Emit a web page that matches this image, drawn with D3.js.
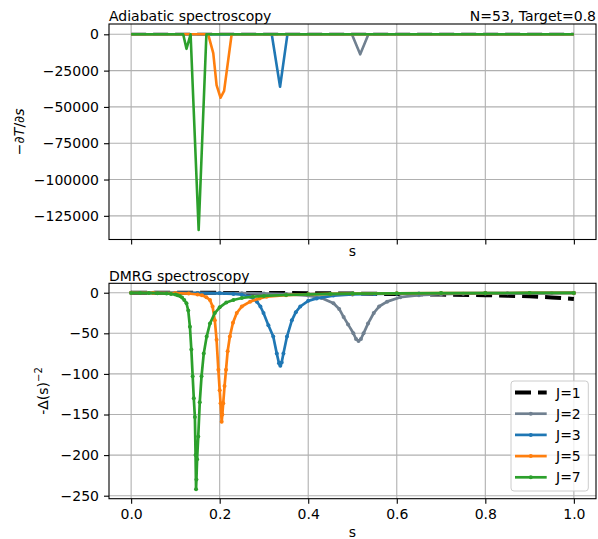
<!DOCTYPE html>
<html>
<head>
<meta charset="utf-8">
<script src="https://cdn.jsdelivr.net/npm/d3@7"></script>
<style>
  html, body { margin: 0; padding: 0; background: #fff; }
  svg { display: block; font-family: "DejaVu Sans", sans-serif; }
</style>
</head>
<body>
<svg id="chart" width="598" height="539"></svg>
<script>
// ---------- DATA ----------
const seriesLabels = ["J=1", "J=2", "J=3", "J=5", "J=7"];
const xTicks = [0.0, 0.2, 0.4, 0.6, 0.8, 1.0];
const topYTicks = [0, -25000, -50000, -75000, -100000, -125000];
const bottomYTicks = [0, -50, -100, -150, -200, -250];

// Top panel: -dT/ds (adiabatic spectroscopy)
const topJ1S = [0.0, 1.0];
const topJ1V = [300, 300];
const topJ2S = [0.0, 0.4986, 0.5174, 0.536, 1.0];
const topJ2V = [0, 0, -13800, 0, 0];
const topJ3S = [0.0, 0.3176, 0.3364, 0.353, 1.0];
const topJ3V = [0, 0, -36100, 0, 0];
const topJ5S = [0.0, 0.174, 0.1855, 0.193, 0.202, 0.21, 0.227, 1.0];
const topJ5V = [0, 0, -13000, -35000, -43700, -39000, 0, 0];
const topJ7S = [0.0, 0.1176, 0.125, 0.1343, 0.1525, 0.170, 1.0];
const topJ7V = [0, 0, -10000, 0, -134800, 0, 0];

// Bottom panel: -Delta(s)^-2 (DMRG spectroscopy)
const botJ1S = [0.0, 0.1, 0.2, 0.3, 0.4, 0.5, 0.6, 0.7, 0.8, 0.85, 0.9, 0.95, 0.98, 1.0];
const botJ1V = [0, -0.1, -0.2, -0.3, -0.6, -1.0, -1.6, -2.3, -3.0, -3.6, -4.5, -5.8, -6.9, -7.7];

const botJ2S = [0.0, 0.05, 0.1, 0.15, 0.2, 0.25, 0.3, 0.35, 0.4, 0.43, 0.457, 0.47, 0.48, 0.49, 0.502, 0.508, 0.5136, 0.519, 0.525, 0.535, 0.548, 0.56, 0.578, 0.608, 0.65, 0.7, 0.75, 0.8, 0.85, 0.9, 0.95, 1.0];
const botJ2V = [-0.1, -0.15, -0.2, -0.3, -0.4, -0.6, -1.0, -1.7, -3.5, -6.5, -13, -20, -30, -39, -50, -57, -59.5, -57, -50, -38, -25, -17, -11, -5.5, -3, -1.8, -1.2, -0.9, -0.7, -0.5, -0.4, -0.3];

const botJ3S = [0.0, 0.05, 0.1, 0.15, 0.2, 0.231, 0.25, 0.269, 0.284, 0.292, 0.299, 0.31, 0.321, 0.329, 0.334, 0.337, 0.34, 0.344, 0.352, 0.363, 0.372, 0.382, 0.4, 0.419, 0.457, 0.5, 0.55, 0.6, 0.65, 0.7, 0.8, 0.9, 1.0];
const botJ3V = [-0.1, -0.2, -0.3, -0.5, -0.8, -1.5, -2.5, -5, -11, -17, -25, -40, -54, -75, -87, -90, -86, -75, -54, -34, -24, -17, -10, -7, -3.5, -2.2, -1.6, -1.2, -1.0, -0.8, -0.5, -0.4, -0.3];

const botJ5S = [0.0, 0.05, 0.1, 0.13, 0.15, 0.16, 0.17, 0.178, 0.184, 0.189, 0.193, 0.197, 0.2, 0.202, 0.2045, 0.206, 0.208, 0.211, 0.2143, 0.218, 0.223, 0.23, 0.2385, 0.25, 0.2686, 0.29, 0.306, 0.35, 0.4, 0.45, 0.5, 0.6, 0.7, 0.8, 0.9, 1.0];
const botJ5V = [-0.1, -0.2, -0.5, -1, -2.2, -3.2, -5.5, -9, -17, -34, -58, -95, -120, -136, -159, -150, -136, -115, -95, -72, -54, -37, -25, -17, -11, -7, -5, -3, -2, -1.5, -1.2, -0.8, -0.6, -0.4, -0.3, -0.3];

const botJ7S = [0.0, 0.02, 0.04, 0.06, 0.08, 0.09, 0.1, 0.105, 0.11, 0.115, 0.12, 0.125, 0.129, 0.1328, 0.136, 0.139, 0.1415, 0.144, 0.1455, 0.1466, 0.1475, 0.149, 0.1516, 0.155, 0.159, 0.164, 0.1706, 0.178, 0.189, 0.2, 0.215, 0.231, 0.25, 0.275, 0.3, 0.35, 0.4, 0.45, 0.5, 0.6, 0.7, 0.8, 0.9, 1.0];
const botJ7V = [-0.2, -0.3, -0.4, -0.6, -1.0, -1.5, -2.3, -3, -4, -6, -9, -13, -22, -42, -70, -103, -130, -153, -200, -242, -230, -205, -177, -135, -103, -75, -54, -38, -25, -18, -12, -9, -6.5, -5, -4, -2.8, -2, -1.5, -1.1, -0.7, -0.5, -0.4, -0.3, -0.3];

const colors = { J1: "#000000", J1top: "#8a8a8a", J2: "#708090", J3: "#1f77b4", J5: "#ff7f0e", J7: "#2ca02c" };

// ---------- LAYOUT ----------
const svg = d3.select("#chart");
const FONT = 14;
const L = 109, R = 596;
const topBox = { top: 24, bottom: 239.5 };
const botBox = { top: 283.3, bottom: 498.7 };

const x = d3.scaleLinear().domain([-0.05, 1.05]).range([L, R]);
const yTop = d3.scaleLinear().domain([-141300, 7100]).range([topBox.bottom, topBox.top]);
const yBot = d3.scaleLinear().domain([-253.7, 11.6]).range([botBox.bottom, botBox.top]);

const fmtMinus = d => (d < 0 ? "\u2212" + Math.abs(d) : String(d));

function drawGrid(box, y, yTicks) {
  const g = svg.append("g");
  g.append("g").selectAll("line").data(xTicks).join("line")
    .attr("x1", d => x(d)).attr("x2", d => x(d))
    .attr("y1", box.top).attr("y2", box.bottom)
    .attr("stroke", "#b0b0b0").attr("stroke-width", 1.1);
  g.append("g").selectAll("line").data(yTicks).join("line")
    .attr("x1", L).attr("x2", R)
    .attr("y1", d => y(d)).attr("y2", d => y(d))
    .attr("stroke", "#b0b0b0").attr("stroke-width", 1.1);
}

function drawAxes(box, y, yTicks, showXLabels) {
  const xAxis = d3.axisBottom(x).tickValues(xTicks).tickSize(5).tickPadding(5)
    .tickFormat(showXLabels ? d3.format(".1f") : () => "");
  const gx = svg.append("g").attr("transform", `translate(0,${box.bottom})`).call(xAxis);
  const yAxis = d3.axisLeft(y).tickValues(yTicks).tickSize(5).tickPadding(5).tickFormat(fmtMinus);
  const gy = svg.append("g").attr("transform", `translate(${L},0)`).call(yAxis);
  [gx, gy].forEach(g => {
    g.select(".domain").remove();
    g.selectAll(".tick line").attr("stroke", "#000").attr("stroke-width", 1.1);
    g.selectAll(".tick text").attr("fill", "#000").style("font-size", FONT + "px")
      .style("font-family", "DejaVu Sans");
  });
  svg.append("rect").attr("x", L).attr("y", box.top)
    .attr("width", R - L).attr("height", box.bottom - box.top)
    .attr("fill", "none").attr("stroke", "#000").attr("stroke-width", 1.1);
}

function clipFor(id, box) {
  svg.append("clipPath").attr("id", id).append("rect")
    .attr("x", L).attr("y", box.top).attr("width", R - L).attr("height", box.bottom - box.top);
}

function series(sArr, vArr) { return sArr.map((s, i) => ({ s: s, v: vArr[i] })); }

// ---------- TOP PANEL ----------
drawGrid(topBox, yTop, topYTicks);
clipFor("clipTop", topBox);
const gTop = svg.append("g").attr("clip-path", "url(#clipTop)");
const lineTop = d3.line().x(d => x(d.s)).y(d => yTop(d.v));

gTop.append("path").datum(series(topJ1S, topJ1V)).attr("d", lineTop)
  .attr("fill", "none").attr("stroke", colors.J1top).attr("stroke-width", 3)
  .attr("stroke-dasharray", "15,7");
[[topJ2S, topJ2V, colors.J2], [topJ3S, topJ3V, colors.J3], [topJ5S, topJ5V, colors.J5], [topJ7S, topJ7V, colors.J7]]
  .forEach(([s, v, c]) => {
    gTop.append("path").datum(series(s, v)).attr("d", lineTop)
      .attr("fill", "none").attr("stroke", c).attr("stroke-width", 2.6)
      .attr("stroke-linejoin", "round");
  });
drawAxes(topBox, yTop, topYTicks, false);

// ---------- BOTTOM PANEL ----------
drawGrid(botBox, yBot, bottomYTicks);
clipFor("clipBot", botBox);
const gBot = svg.append("g").attr("clip-path", "url(#clipBot)");
const lineBot = d3.line().x(d => x(d.s)).y(d => yBot(d.v));

gBot.append("path").datum(series(botJ1S, botJ1V)).attr("d", lineBot)
  .attr("fill", "none").attr("stroke", colors.J1).attr("stroke-width", 4)
  .attr("stroke-dasharray", "16,7");

const botSeries = [
  [botJ2S, botJ2V, colors.J2],
  [botJ3S, botJ3V, colors.J3],
  [botJ5S, botJ5V, colors.J5],
  [botJ7S, botJ7V, colors.J7]
];
botSeries.forEach(([s, v, c]) => {
  const data = series(s, v);
  gBot.append("path").datum(data).attr("d", lineBot)
    .attr("fill", "none").attr("stroke", c).attr("stroke-width", 2.7)
    .attr("stroke-linejoin", "round");
  gBot.append("g").selectAll("circle").data(data).join("circle")
    .attr("cx", d => x(d.s)).attr("cy", d => yBot(d.v)).attr("r", 2).attr("fill", c);
});
drawAxes(botBox, yBot, bottomYTicks, true);

// ---------- TEXT ----------
const txt = (xx, yy, s, anchor) => svg.append("text").attr("x", xx).attr("y", yy)
  .attr("text-anchor", anchor || "start").style("font-size", FONT + "px").attr("fill", "#000").text(s);

txt(L, 21, "Adiabatic spectroscopy");
txt(R, 21, "N=53, Target=0.8", "end");
txt(L, 280.5, "DMRG spectroscopy");
txt((L + R) / 2, 256, "s", "middle");
txt((L + R) / 2, 536.5, "s", "middle");

// y label top: −∂T/∂s
const yl1 = svg.append("text").attr("transform", `translate(24,${(topBox.top + topBox.bottom) / 2}) rotate(-90)`)
  .attr("text-anchor", "middle").style("font-size", FONT + "px");
yl1.append("tspan").text("\u2212\u2202");
yl1.append("tspan").style("font-style", "italic").text("T");
yl1.append("tspan").text("/\u2202");
yl1.append("tspan").style("font-style", "italic").text("s");

// y label bottom: -Δ(s)^−2
const yl2 = svg.append("text").attr("transform", `translate(48,${(botBox.top + botBox.bottom) / 2}) rotate(-90)`)
  .attr("text-anchor", "middle").style("font-size", FONT + "px");
yl2.append("tspan").text("-\u0394(s)");
yl2.append("tspan").attr("dy", -6).style("font-size", "10px").text("\u22122");

// ---------- LEGEND ----------
const leg = svg.append("g");
leg.append("rect").attr("x", 511).attr("y", 381).attr("width", 77.3).attr("height", 110)
  .attr("rx", 3).attr("fill", "#fff").attr("fill-opacity", 0.8).attr("stroke", "#cccccc");
const legColors = [colors.J1, colors.J2, colors.J3, colors.J5, colors.J7];
seriesLabels.forEach((lab, i) => {
  const cy = 392.5 + i * 21.2;
  if (i === 0) {
    leg.append("line").attr("x1", 515).attr("x2", 546.7).attr("y1", cy).attr("y2", cy)
      .attr("stroke", legColors[i]).attr("stroke-width", 4).attr("stroke-dasharray", "16,7");
  } else {
    leg.append("line").attr("x1", 515).attr("x2", 546.7).attr("y1", cy).attr("y2", cy)
      .attr("stroke", legColors[i]).attr("stroke-width", 2.7);
    leg.append("circle").attr("cx", 530.8).attr("cy", cy).attr("r", 2).attr("fill", legColors[i]);
  }
  leg.append("text").attr("x", 556).attr("y", cy + 5).style("font-size", FONT + "px").text(lab);
});
</script>
</body>
</html>
